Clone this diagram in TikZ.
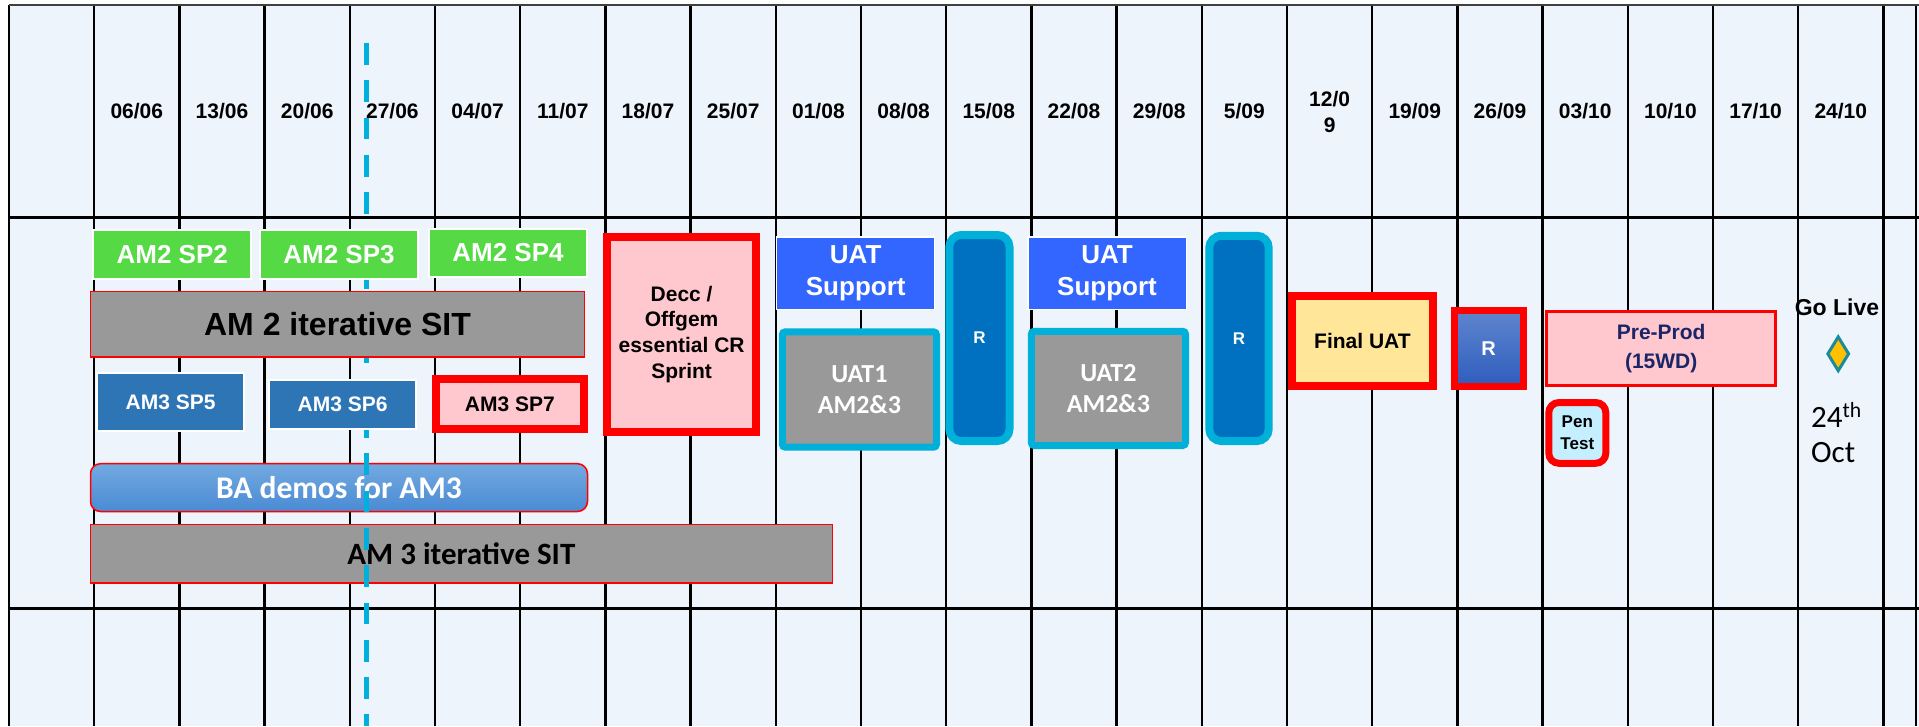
\documentclass[tikz,border=0pt]{standalone}
\usepackage{fontspec}
\setmainfont{Liberation Sans}
\newfontfamily\calib{Carlito}
\usetikzlibrary{shapes.geometric}
\definecolor{bgc}{HTML}{EDF4FB}
\definecolor{grn}{HTML}{55D944}
\definecolor{gry}{HTML}{999999}
\definecolor{blusp}{HTML}{2E75B6}
\definecolor{pnk}{HTML}{FFC7CE}
\definecolor{redc}{HTML}{FF0000}
\definecolor{blusupp}{HTML}{3366FF}
\definecolor{rfill}{HTML}{0070C0}
\definecolor{cyanb}{HTML}{00B0D8}
\definecolor{yel}{HTML}{FFE699}
\definecolor{pencol}{HTML}{C5EFFF}
\definecolor{navyt}{HTML}{1A2668}
\definecolor{orng}{HTML}{FFC000}
\definecolor{teal}{HTML}{1A8A9C}
\definecolor{dashc}{HTML}{00B0DC}
\definecolor{batop}{HTML}{72A9E0}
\definecolor{babot}{HTML}{4A8BD4}
\definecolor{rtop}{HTML}{5E85CE}
\definecolor{rbot}{HTML}{2F5DBD}
\begin{document}
\begin{tikzpicture}[x=1pt,y=-1pt,
  gridline/.style={black,line width=2.4pt},
  datelbl/.style={font=\fontsize{21}{26}\selectfont\bfseries,align=center,inner sep=0pt},
  boxbase/.style={rectangle,inner sep=0pt,align=center},
  greenbox/.style={boxbase,fill=grn,draw=white,line width=2pt,text=white,font=\fontsize{26}{30}\selectfont\bfseries},
  sitbox/.style={boxbase,fill=gry,draw=redc,line width=1.5pt,text=black},
  spbox/.style={boxbase,fill=blusp,draw=white,line width=2pt,text=white,font=\fontsize{21}{25}\selectfont\bfseries},
  redpink/.style={boxbase,fill=pnk,draw=redc,line width=8pt,text=black,font=\fontsize{21}{25.7}\selectfont\bfseries},
  suppbox/.style={boxbase,fill=blusupp,draw=white,line width=1.5pt,text=white,font=\fontsize{26}{32}\selectfont\bfseries},
  rbox/.style={boxbase,fill=rfill,draw=cyanb,line width=8pt,rounded corners=12pt,text=white,font=\fontsize{17}{20}\selectfont\bfseries},
  uatbox/.style={boxbase,fill=gry,draw=cyanb,line width=7pt,rounded corners=3pt,text=white,font=\calib\fontsize{26}{31}\selectfont\bfseries},
  dashline/.style={dashc,line width=5.5pt,dash pattern=on 21.7pt off 15.6pt}
]
\useasboundingbox (0,0) rectangle (1919,726);
\fill[white] (0,0) rectangle (1919,726);
\fill[bgc] (9,5) rectangle (1919,726);
% grid
\foreach \i in {0,...,22} \draw[gridline] ({9+85.2*\i},5) -- ({9+85.2*\i},726);
\draw[gridline] (1916,5) -- (1916,726);
\draw[black!75,line width=2.2pt] (9,5) -- (1919,5);
\draw[black,line width=3pt] (9,217.3) -- (1919,217.3);
\draw[black,line width=3pt] (9,608.7) -- (1919,608.7);
% dates
\foreach \d [count=\i] in {06/06,13/06,20/06,27/06,04/07,11/07,18/07,25/07,01/08,08/08,15/08,22/08,29/08,5/09,{12/0\\9},19/09,26/09,03/10,10/10,17/10,24/10}
  \node[datelbl] (date\i) at ({9+85.2*\i+42.6},111.5) {\d};
% layer under the dashed line
\node[boxbase,top color=batop,bottom color=babot,draw=redc,line width=1.5pt,rounded corners=10pt,
  text=white,font=\calib\fontsize{31.5}{36}\selectfont\bfseries,minimum width=497pt,minimum height=47.8pt]
  (ba) at (339,487.6) {BA demos for AM3};
\node[sitbox,font=\calib\fontsize{31}{36}\selectfont\bfseries,minimum width=741.7pt,minimum height=58.8pt]
  (am3sit) at (461.4,553.8) {AM 3 iterative SIT};
% today line
\coordinate (dashtop) at (366.5,43);
\coordinate (dashbot) at (366.5,726);
\draw[dashline] (dashtop) -- (dashbot);
% AM2 sprints
\node[greenbox,minimum width=158pt,minimum height=49pt] (sp2) at (172.2,254.5) {AM2 SP2};
\node[greenbox,minimum width=158.4pt,minimum height=49pt] (sp3) at (339,254.5) {AM2 SP3};
\node[greenbox,minimum width=158.4pt,minimum height=48.6pt] (sp4) at (508,253) {AM2 SP4};
\node[sitbox,font=\fontsize{32}{36}\selectfont\bfseries,minimum width=494pt,minimum height=65.5pt]
  (am2sit) at (337.5,324.2) {AM 2 iterative SIT};
% AM3 sprints
\node[spbox,minimum width=147.4pt,minimum height=57.7pt] (sp5) at (170.6,401.8) {AM3 SP5};
\node[spbox,minimum width=146.9pt,minimum height=49pt] (sp6) at (342.6,404.2) {AM3 SP6};
\node[redpink,minimum width=148pt,minimum height=50pt] (sp7) at (509.8,404) {AM3 SP7};
% Decc
\node[redpink,minimum width=148.7pt,minimum height=195.3pt] (decc) at (681.6,334.3) {Decc /\\Offgem\\essential CR\\Sprint};
% UAT
\node[suppbox,minimum width=158pt,minimum height=72.5pt] (uats1) at (855.7,273) {UAT\\Support};
\node[uatbox,minimum width=154.2pt,minimum height=115.4pt] (uat1) at (859.4,389.5) {UAT1\\AM2\&3};
\node[rbox,minimum width=60.2pt,minimum height=206pt] (r1) at (979.4,338) {R};
\node[suppbox,minimum width=158.5pt,minimum height=72.5pt] (uats2) at (1107,273) {UAT\\Support};
\node[uatbox,minimum width=154.2pt,minimum height=114.3pt] (uat2) at (1108.4,388.4) {UAT2\\AM2\&3};
\node[rbox,minimum width=59.4pt,minimum height=205.3pt] (r2) at (1239,338.4) {R};
% final stretch
\node[boxbase,fill=yel,draw=redc,line width=8pt,font=\fontsize{21}{25}\selectfont\bfseries,
  minimum width=140.7pt,minimum height=90pt] (final) at (1362.4,341.3) {Final UAT};
\node[boxbase,top color=rtop,bottom color=rbot,draw=redc,line width=7pt,text=white,
  font=\fontsize{20}{24}\selectfont\bfseries,minimum width=69pt,minimum height=76.3pt] (r3) at (1488.7,348.4) {R};
\node[boxbase,fill=pnk,draw=redc,line width=3pt,text=navyt,font=\fontsize{21}{29.5}\selectfont\bfseries,
  minimum width=228.7pt,minimum height=74.3pt] (preprod) at (1661.2,348.7) {Pre-Prod\\(15WD)};
\node[boxbase,fill=pencol,draw=redc,line width=7pt,rounded corners=10pt,font=\fontsize{17}{22}\selectfont\bfseries,
  minimum width=57pt,minimum height=60.7pt] (pen) at (1577.3,432.9) {Pen\\Test};
% go live
\node[inner sep=0pt,font=\fontsize{23}{27}\selectfont\bfseries] (golive) at (1837,307) {Go Live};
\node[diamond,inner sep=0pt,minimum width=22pt,minimum height=35pt,fill=orng,draw=teal,line width=3pt] (gem) at (1838.2,353.8) {};
\node[anchor=base west,inner sep=0pt,font=\calib\fontsize{31}{35}\selectfont] (d24) at (1811,427) {24\textsuperscript{th}};
\node[anchor=base west,inner sep=0pt,font=\calib\fontsize{31}{35}\selectfont] (doct) at (1811,462) {Oct};
\end{tikzpicture}
\end{document}
